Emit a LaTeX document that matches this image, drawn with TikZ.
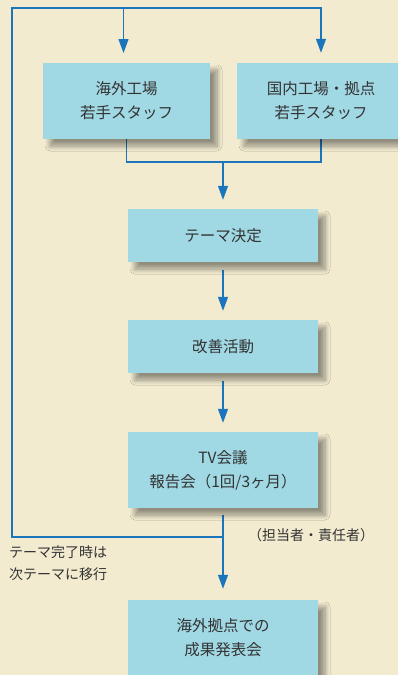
\documentclass[tikz,border=0pt]{standalone}
\usepackage{fontspec}
\setmainfont{Noto Sans CJK JP}
\usetikzlibrary{arrows.meta,shadows.blur,calc}
\definecolor{bgc}{HTML}{F2EBD0}
\definecolor{boxc}{HTML}{A0D8E4}
\definecolor{linec}{HTML}{1B75BC}
\definecolor{txtc}{HTML}{333333}
\pgfdeclarelayer{bg}
\pgfsetlayers{bg,main}
\tikzset{
  flowbox/.style={fill=boxc, draw=none, inner sep=0pt, align=center,
    text=txtc, font=\fontsize{15.5}{24}\selectfont,
    blur shadow={shadow xshift=7pt, shadow yshift=-7pt, shadow blur radius=5pt, shadow opacity=40, shadow blur steps=10}},
  conn/.style={draw=linec, line width=1.2pt},
  arr/.style={conn, -{Triangle[length=14pt,width=10pt]}},
  lbl/.style={text=txtc, font=\fontsize{14}{22}\selectfont, inner sep=0pt}
}
\begin{document}
\begin{tikzpicture}[x=1pt,y=-1pt]
\useasboundingbox (0,0) rectangle (398,675);
\node[flowbox, minimum width=167pt, minimum height=76pt] (A) at (126.5,101) {海外工場\\若手スタッフ};
\node[flowbox, minimum width=168pt, minimum height=76pt] (B) at (321,101) {国内工場・拠点\\若手スタッフ};
\node[flowbox, minimum width=190pt, minimum height=53pt] (T) at (223,235.5) {テーマ決定};
\node[flowbox, minimum width=190pt, minimum height=53pt] (K) at (223,346.5) {改善活動};
\node[flowbox, minimum width=190pt, minimum height=76pt] (V) at (223,470) {TV会議\\報告会（1回/3ヶ月）};
\node[flowbox, minimum width=190pt, minimum height=76pt] (F) at (223,638) {海外拠点での\\成果発表会};
\node[lbl, anchor=center] (r) at (311,535) {（担当者・責任者）};
\node[lbl, anchor=north west, align=left] (l) at (9,546) {テーマ完了時は\\次テーマに移行};
\coordinate (lt) at (12,8);
\coordinate (at) at (123.5,8);
\coordinate (j) at (V.south |- 0,537);
\coordinate (m) at (T.north |- 0,162);
\begin{pgfonlayer}{bg}
\fill[bgc] (0,0) rectangle (398,675);
\draw[conn] (j) -| (lt) -- (at);
\draw[arr] (lt) -| ($(B.north)+(0,-10)$);
\draw[arr] (at) -- ++(0,45);
\draw[conn] (A.south) -- (A.south |- m) -- (B.south |- m) -- (B.south);
\draw[arr] (m) -- ($(T.north)+(0,-9)$);
\draw[arr] ($(T.south)+(0,8)$) -- ($(K.north)+(0,-9)$);
\draw[arr] ($(K.south)+(0,8)$) -- ($(V.north)+(0,-9)$);
\draw[arr] ($(V.south)+(0,7)$) -- ($(F.north)+(0,-11)$);
\end{pgfonlayer}
\end{tikzpicture}
\end{document}
